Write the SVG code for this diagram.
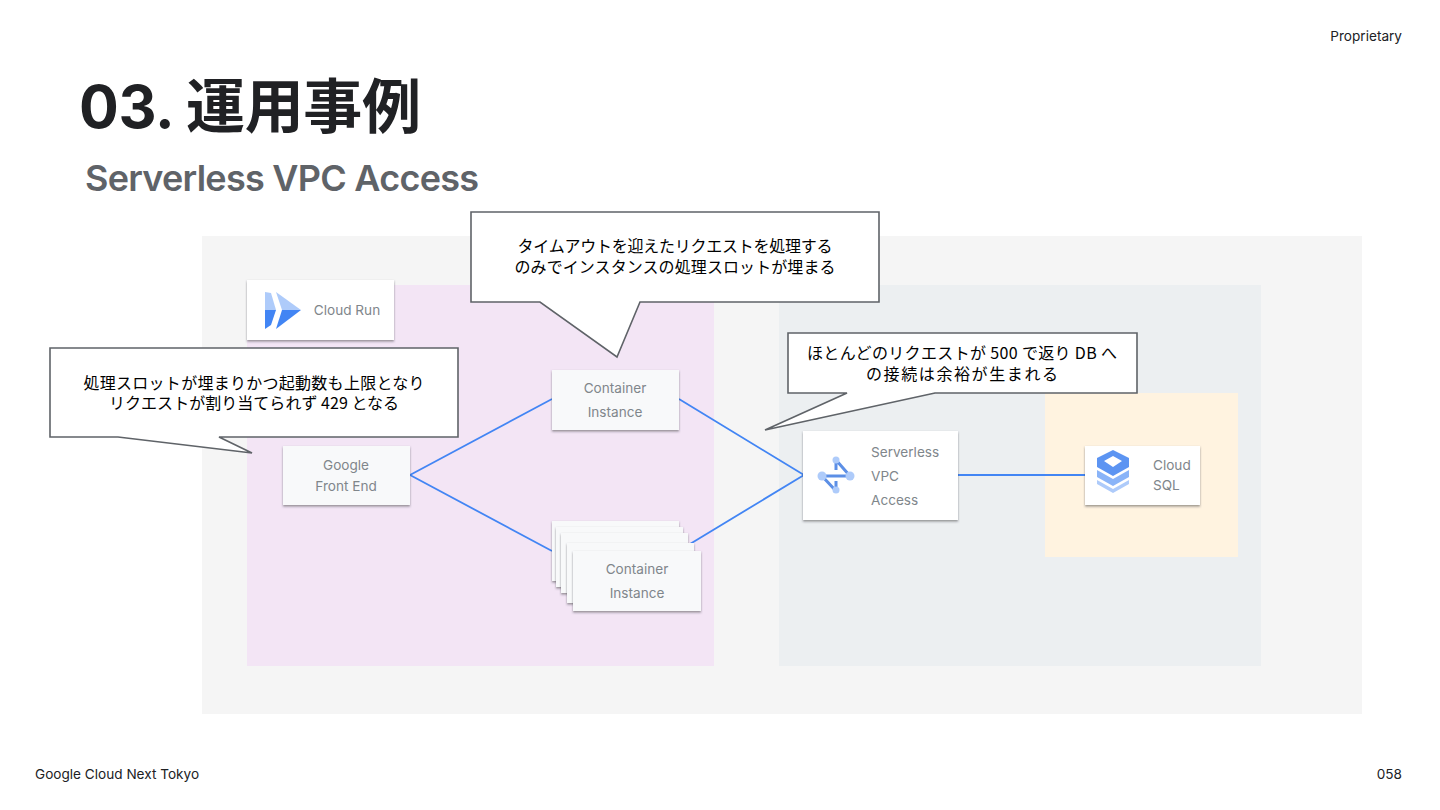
<svg xmlns="http://www.w3.org/2000/svg" width="1440" height="810" viewBox="0 0 1440 810">
<style>
text{font-family:Roboto,"Noto Sans CJK JP",sans-serif}
.l{font-family:Inter,Roboto,"Noto Sans CJK JP",sans-serif;font-size:13.6px;fill:#80868b;text-anchor:middle}
.ls{text-anchor:start}
.c{font-size:16px;fill:#000;text-anchor:middle;font-weight:400;font-family:"Noto Sans CJK JP",sans-serif}
.w{fill:#fff;filter:url(#s)}
.g{fill:#f8f9fa;filter:url(#s)}
.b{fill:#fff;stroke:#5f6368;stroke-width:1.6}
.e{fill:none;stroke:#4285f4;stroke-width:1.8}
.f{font-size:13.6px;fill:#202124;font-family:Inter,Roboto,sans-serif}
</style>
<defs><filter id="s" x="-10%" y="-10%" width="120%" height="125%"><feDropShadow dx="0" dy="1.5" stdDeviation="0.8" flood-color="#3c4043" flood-opacity="0.55"/></filter></defs>
<rect width="1440" height="810" fill="#fff"/>
<text x="1402" y="41" class="f" text-anchor="end">Proprietary</text>
<text x="79" y="128" font-size="59" font-weight="700" fill="#202124" style='font-family:Inter,"Noto Sans CJK JP",sans-serif' textLength="342" lengthAdjust="spacing">03. 運用事例</text>
<text x="85" y="191" font-size="36" font-weight="600" fill="#5f6368" style="font-family:Inter,Roboto,sans-serif" textLength="394">Serverless VPC Access</text>
<text x="35" y="779" class="f">Google Cloud Next Tokyo</text>
<text x="1402" y="779" class="f" text-anchor="end">058</text>
<rect x="202" y="236" width="1160" height="478" fill="#f5f5f5"/>
<rect x="247" y="285" width="467" height="381" fill="#f3e5f5"/>
<rect x="779" y="285" width="482" height="381" fill="#eceff1"/>
<rect x="1045" y="393" width="193" height="164" fill="#fff3e0"/>
<g id="connectors">
<path class="e" d="M410 475L552 399M410 475L552 551M679 399L804 475M690 544L804 475M958 475H1085"/>
</g>
<g id="cloud-run">
<rect class="w" x="247" y="280" width="147" height="60"/>
<path d="M265 292L271 293L276 310H265Z" fill="#aecbfa"/><path d="M265 310H276L271 325L265 329Z" fill="#4285f4"/>
<path d="M276 292L301 310H282Z" fill="#aecbfa"/><path d="M282 310H301L276 329Z" fill="#4285f4"/>
<text x="347" y="315" class="l">Cloud Run</text>
</g>
<g id="google-front-end">
<rect class="g" x="283" y="446" width="127" height="59"/>
<text x="346" y="470" class="l">Google</text><text x="346" y="491" class="l">Front End</text>
</g>
<g id="container-instance">
<rect class="g" x="552" y="370" width="127" height="60"/>
<text x="615" y="393" class="l">Container</text><text x="615" y="417" class="l">Instance</text>
</g>
<g id="container-instances">
<rect class="g" x="552" y="521" width="127" height="60"/>
<rect class="g" x="556" y="527" width="127" height="60"/>
<rect class="g" x="561" y="533" width="127" height="60"/>
<rect class="g" x="567" y="543" width="127" height="60"/>
<rect class="g" x="573" y="551" width="128" height="60"/>
<text x="637" y="574" class="l">Container</text><text x="637" y="598" class="l">Instance</text>
</g>
<g id="serverless-vpc-access">
<rect class="w" x="803" y="431" width="155" height="89"/>
<path d="M836 460L850 476H822L836 491M836 460V470M836 481V491" fill="none" stroke="#5c8fe6" stroke-width="3"/>
<circle cx="836" cy="460" r="3.5" fill="#aecbfa"/><circle cx="836" cy="490" r="3.5" fill="#aecbfa"/><circle cx="822" cy="476" r="4.5" fill="#aecbfa"/><circle cx="850" cy="476" r="4.5" fill="#aecbfa"/>
<text x="871" y="457" class="l ls">Serverless</text><text x="871" y="481" class="l ls">VPC</text><text x="871" y="505" class="l ls">Access</text>
</g>
<g id="cloud-sql">
<rect class="w" x="1085" y="446" width="115" height="59"/>
<path d="M1113 450L1129 458V467L1113 476L1097 467V458ZM1113 456L1104 461L1113 467L1122 461Z" fill="#5c94f2" fill-rule="evenodd"/>
<path d="M1097 470L1113 479L1129 470V477L1113 486L1097 477Z" fill="#8ab4f8"/>
<path d="M1097 480L1113 489L1129 480V484L1113 493L1097 484Z" fill="#aecbfa"/>
<text x="1153" y="470" class="l ls">Cloud</text><text x="1153" y="490" class="l ls">SQL</text>
</g>
<g id="callout-slots">
<path class="b" d="M471 212H879V302H640L617 357L540 302H471Z"/>
<text class="c"><tspan x="675" y="252" textLength="315">タイムアウトを迎えたリクエストを処理する</tspan><tspan x="675" y="273" textLength="321">のみでインスタンスの処理スロットが埋まる</tspan></text>
</g>
<g id="callout-500">
<path class="b" d="M788 333H1137V393H935L765 430L847 393H788Z"/>
<text class="c"><tspan x="962" y="359" textLength="310">ほとんどのリクエストが 500 で返り DB へ</tspan><tspan x="962" y="380" textLength="192">の接続は余裕が生まれる</tspan></text>
</g>
<g id="callout-429">
<path class="b" d="M50 348H458V437H219L252 453L118 437H50Z"/>
<text class="c"><tspan x="254" y="389" textLength="341">処理スロットが埋まりかつ起動数も上限となり</tspan><tspan x="254" y="409" textLength="290">リクエストが割り当てられず 429 となる</tspan></text>
</g>
</svg>
